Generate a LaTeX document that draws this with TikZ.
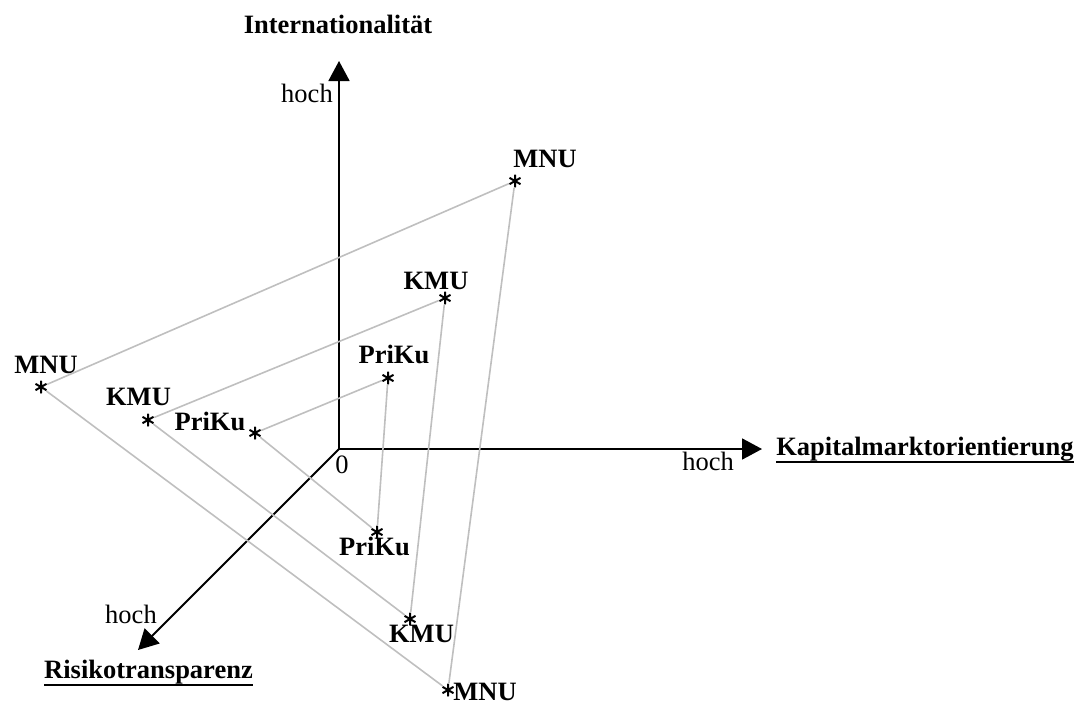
\documentclass[tikz,border=0pt]{standalone}
\usepackage{fontspec}
\setmainfont{Liberation Serif}
\usetikzlibrary{arrows.meta}
\begin{document}
\begin{tikzpicture}[x=1pt,y=-1pt,
  txt/.style={inner sep=0pt,anchor=base,font=\fontsize{26.5}{30}\selectfont},
  btxt/.style={txt,font=\fontsize{26.5}{30}\selectfont\bfseries},
  axis/.style={line width=1.8pt,-{Triangle[length=20pt,width=21pt]}},
  uline/.style={line width=1.8pt},
  link/.style={line width=1.6pt,draw=black!25},
  pt/.style={circle,inner sep=0pt,minimum size=13pt,
    path picture={\draw[line width=2pt,line cap=round]
      ([shift={(90:6pt)}]path picture bounding box.center) -- ([shift={(270:6pt)}]path picture bounding box.center)
      ([shift={(30:6pt)}]path picture bounding box.center) -- ([shift={(210:6pt)}]path picture bounding box.center)
      ([shift={(150:6pt)}]path picture bounding box.center) -- ([shift={(330:6pt)}]path picture bounding box.center);}}
]
\useasboundingbox (0,0) rectangle (1086,704);

% axes
\coordinate (o) at (339,449);
\coordinate (ytip) at (339,61);
\coordinate (xtip) at (762,449);
\coordinate (ztip) at (138,650);
\draw[axis] (o) -- (ytip);
\draw[axis] (o) -- (xtip);
\draw[axis] (o) -- (ztip);

% axis labels
\node[btxt] (intl) at (338,33) {Internationalität};
\node[txt] (hy) at (307,102) {hoch};
\node[txt] (hx) at (708,470) {hoch};
\node[txt] (zero) at (342,473) {0};
\node[txt] (hz) at (131,623) {hoch};
\node[btxt] (kap) at (925,455) {Kapitalmarktorientierung};
\draw[uline] ([yshift=-7pt]kap.base west) -- ([yshift=-7pt]kap.base east);
\node[btxt] (risk) at (148.5,678) {Risikotransparenz};
\draw[uline] ([yshift=-7pt]risk.base west) -- ([yshift=-7pt]risk.base east);

% data points
\node[pt] (mt) at (515,181) {};
\node[pt] (kt) at (445,298) {};
\node[pt] (pt1) at (388,378) {};
\node[pt] (ml) at (41,387) {};
\node[pt] (kl) at (148,420) {};
\node[pt] (pl) at (255,433) {};
\node[pt] (pb) at (377,532) {};
\node[pt] (kb) at (410,619) {};
\node[pt] (mb) at (448,690) {};

% point labels
\node[btxt] (lmt) at (545,167) {MNU};
\node[btxt] (lkt) at (436,289) {KMU};
\node[btxt] (lpt) at (394,363) {PriKu};
\node[btxt] (lml) at (46,373) {MNU};
\node[btxt] (lkl) at (138.5,405) {KMU};
\node[btxt] (lpl) at (210,430) {PriKu};
\node[btxt] (lpb) at (374.5,555) {PriKu};
\node[btxt] (lkb) at (421.5,642) {KMU};
\node[btxt] (lmb) at (485,700) {MNU};

% triangles
\draw[link] (ml) -- (mt) -- (mb) -- (ml);
\draw[link] (kl) -- (kt) -- (kb) -- (kl);
\draw[link] (pl) -- (pt1) -- (pb) -- (pl);
\end{tikzpicture}
\end{document}
